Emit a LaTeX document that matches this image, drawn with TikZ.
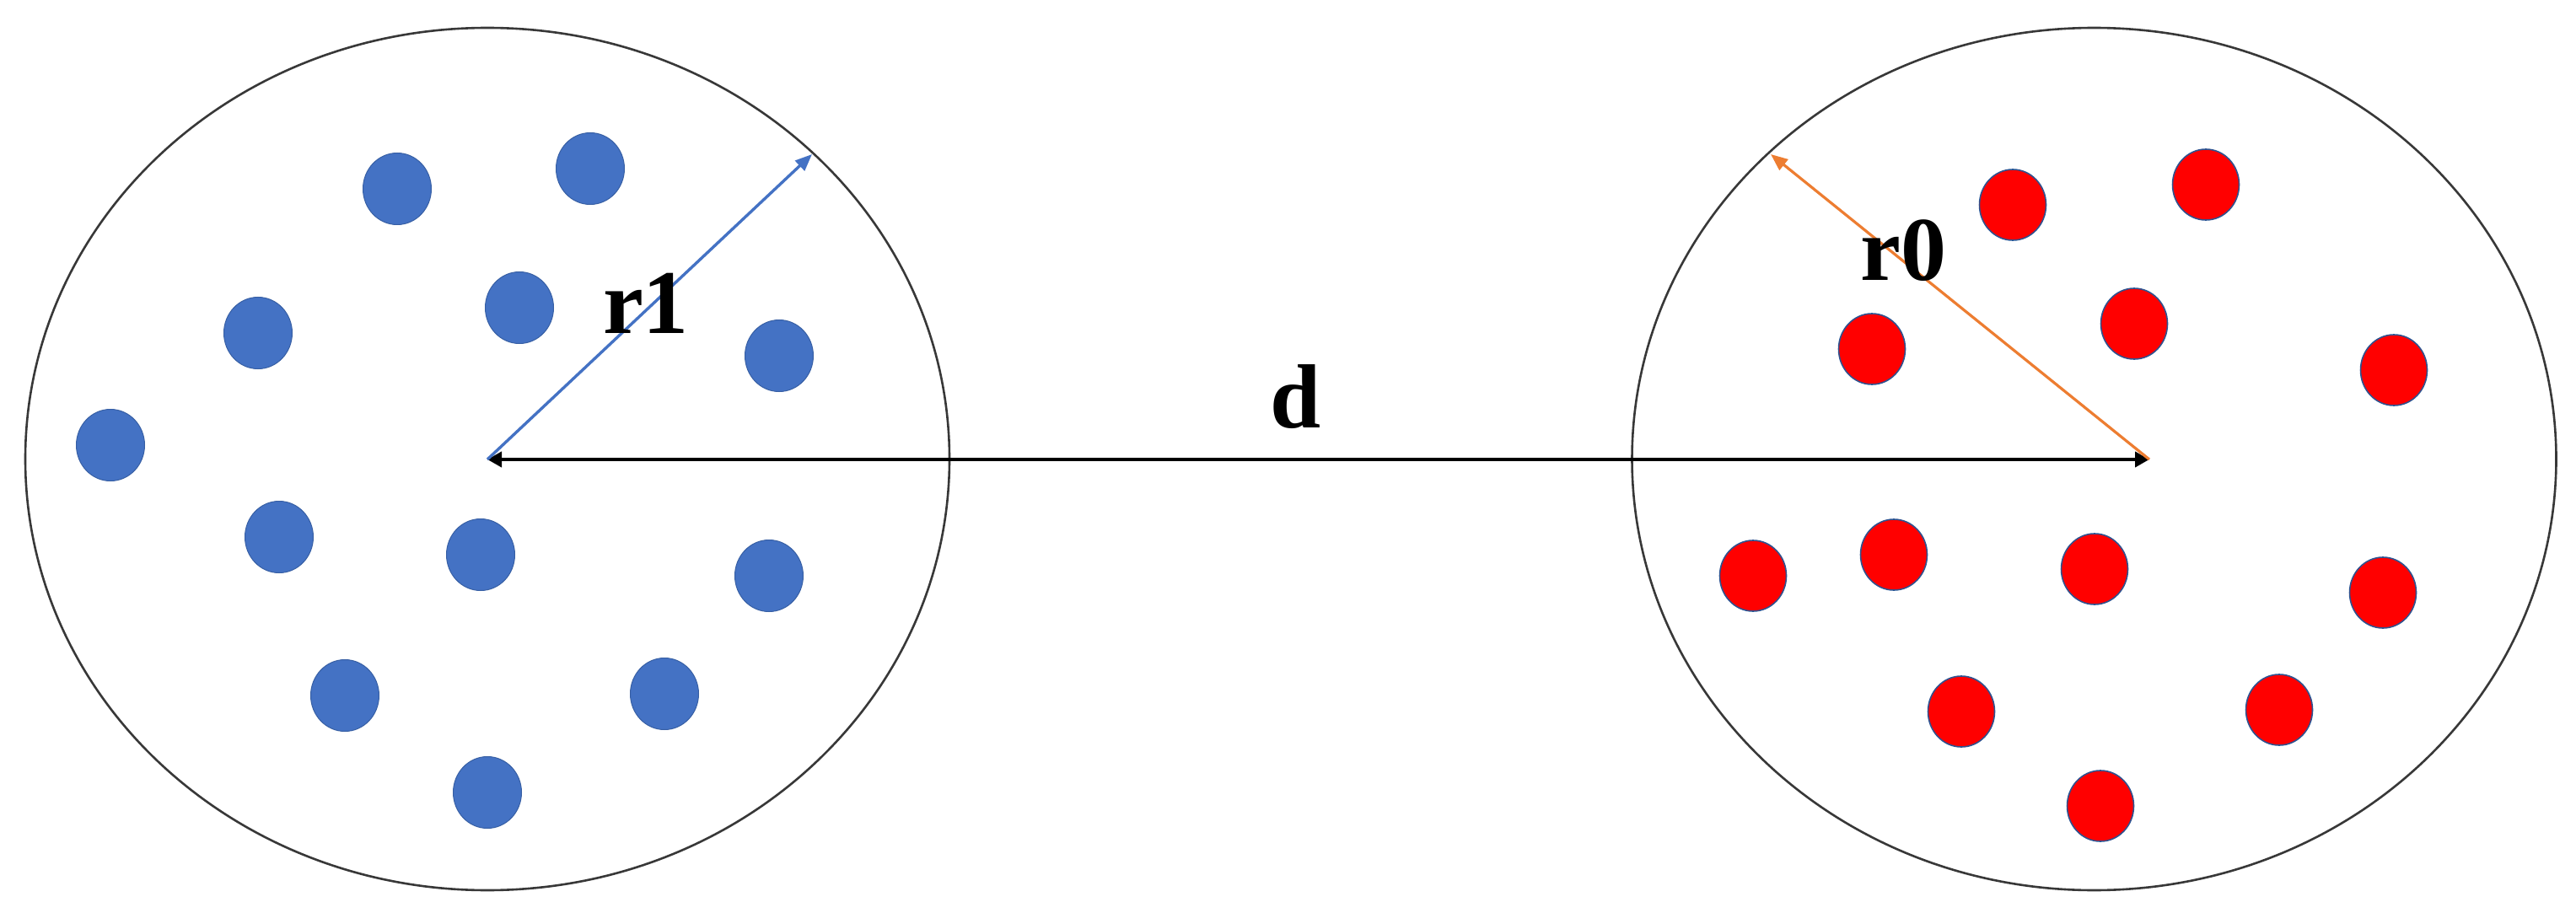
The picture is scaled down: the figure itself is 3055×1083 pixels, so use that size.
\documentclass[tikz,border=0pt]{standalone}
\usepackage{fontspec}
\setmainfont{Liberation Serif}
\usetikzlibrary{arrows.meta,shapes.geometric}
\definecolor{dotblue}{HTML}{4472C4}
\definecolor{edgeblue}{HTML}{2F528F}
\definecolor{dotred}{HTML}{FF0000}
\definecolor{rorange}{HTML}{ED7D31}
\begin{document}
\begin{tikzpicture}[x=1pt,y=-1pt,
  ring/.style={draw=black!78, line width=2.6pt, ellipse, minimum width=1096pt, minimum height=1023pt, inner sep=0pt, outer sep=0pt},
  bdot/.style={ellipse, fill=dotblue, draw=edgeblue!60!dotblue, line width=1pt, minimum width=81pt, minimum height=85pt, inner sep=0pt},
  rdot/.style={ellipse, fill=dotred, draw=edgeblue, line width=1.6pt, minimum width=79pt, minimum height=84pt, inner sep=0pt},
  lbl/.style={font=\fontsize{108}{120}\selectfont\bfseries, anchor=base, inner sep=0pt},
  darrow/.style={draw=black, line width=4pt, {Triangle[length=17pt,width=18pt]}-{Triangle[length=17pt,width=18pt]}},
  barrow/.style={draw=dotblue, line width=3.4pt, -{Triangle[length=20pt,width=16pt]}},
  oarrow/.style={draw=rorange, line width=3.2pt, -{Triangle[length=20pt,width=16pt]}}
]
\useasboundingbox[fill=white] (0,0) rectangle (3055,1083);
% circles
\node[ring] (cl) at (578,544.5) {};
\node[ring] (cr) at (2483.5,544.5) {};
% blue dots
\foreach \i/\x/\y in {1/471/224, 2/700/200, 3/306/395, 4/616/365, 5/924/422, 6/131/528,
  7/331/637, 8/570/658, 9/912/683, 10/409/825, 11/788/823, 12/578/940}
  \node[bdot] (b\i) at (\x,\y) {};
% red dots
\foreach \i/\x/\y in {1/2387/243, 2/2616/219, 3/2220/414, 4/2531/384, 5/2839/439, 6/2079/683,
  7/2246/658, 8/2484/675, 9/2826/703, 10/2326/844, 11/2703/842, 12/2491/956}
  \node[rdot] (r\i) at (\x,\y) {};
% arrow end points
\coordinate (lc) at (578,545);
\coordinate (rc) at (2549,545);
\coordinate (bt) at (963,183);
\coordinate (ot) at (2100,183);
% connectors
\draw[darrow] (lc) -- (rc);
\draw[barrow] (lc) -- (bt);
\draw[oarrow] (rc) -- (ot);
% labels
\node[lbl] (lr1) at (766,395) {r1};
\node[lbl] (lr0) at (2257,333) {r0};
\node[lbl] (ld) at (1537,507) {d};
\end{tikzpicture}
\end{document}
